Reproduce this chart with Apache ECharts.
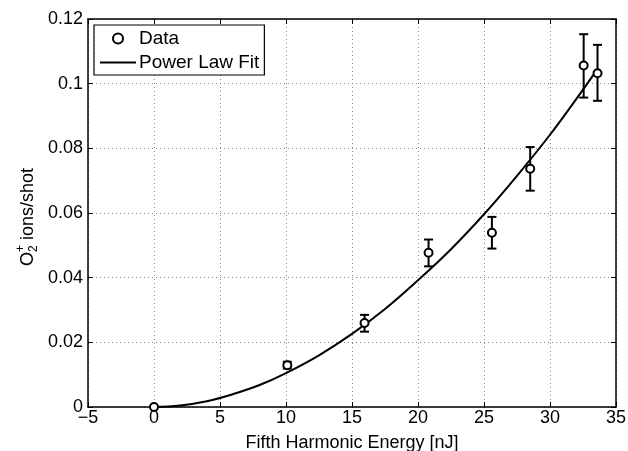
<!DOCTYPE html>
<html>
<head>
<meta charset="utf-8">
<script src="https://cdn.jsdelivr.net/npm/echarts@6/dist/echarts.min.js"></script>
<style>
  html, body { margin: 0; padding: 0; background: #fff; }
  #chart { width: 628px; height: 451px; }
</style>
</head>
<body>
<div id="chart"></div>
<script>
// Measured O2+ yield versus fifth-harmonic pulse energy
const energy  = [0, 10.1, 15.95, 20.8, 25.6, 28.5, 32.55, 33.6];
const ions    = [0, 0.0129, 0.0260, 0.0477, 0.0539, 0.0737, 0.1056, 0.1032];
const errLow  = [0, 0.0119, 0.0233, 0.0435, 0.0490, 0.0669, 0.0957, 0.0947];
const errHigh = [0, 0.0140, 0.0285, 0.0518, 0.0588, 0.0804, 0.1153, 0.1120];

// Power-law fit curve samples
const fitEnergy = [0, 2, 4, 6, 8, 10, 12.5, 15, 17.5, 20, 22.5, 25, 27.5, 30, 32, 33.3];
const fitIons   = [0, 0.0005, 0.0018, 0.0040, 0.0068, 0.0105, 0.0160, 0.0226, 0.0303,
                   0.0392, 0.0488, 0.0596, 0.0715, 0.0842, 0.0953, 0.1028];

const xTicks = { min: -5, max: 35, interval: 5 };
const yTicks = { min: 0, max: 0.12, interval: 0.02 };

const FONT = 'Liberation Sans, Arial, Helvetica, sans-serif';
const chart = echarts.init(document.getElementById('chart'), null, { renderer: 'canvas' });

const pointData = energy.map((x, i) => [x, ions[i]]);
const errData = energy.map((x, i) => [x, errLow[i], errHigh[i]]);
const fitData = fitEnergy.map((x, i) => [x, fitIons[i]]);

const frameLine = { show: true, onZero: false, lineStyle: { color: '#000', width: 1.5 } };
const innerTick = { show: true, inside: true, length: 5, lineStyle: { color: '#000', width: 1 } };
const gridDots = { show: true, lineStyle: { color: '#8a8a8a', width: 1, type: [1, 3] } };

const textStyleBase = (size) => ({
  fontSize: size, fontFamily: FONT, fill: '#000',
  align: 'left', verticalAlign: 'middle', textAlign: 'left', textVerticalAlign: 'middle'
});

chart.setOption({
  animation: false,
  backgroundColor: '#fff',
  textStyle: { fontFamily: FONT },
  grid: { left: 88, right: 12, top: 19, bottom: 44, containLabel: false, outerBoundsMode: 'none' },
  legend: {
    left: 94, top: 25,
    orient: 'vertical',
    itemWidth: 36, itemHeight: 10, itemGap: 5,
    padding: [4, 5, 3, 6],
    backgroundColor: '#fff',
    borderColor: '#000', borderWidth: 1.2, borderRadius: 0,
    textStyle: { fontFamily: FONT, fontSize: 19, color: '#000', padding: [0, 0, 0, -2] },
    data: [
      { name: 'Data', icon: 'circle',
        itemStyle: { color: '#fff', borderColor: '#000', borderWidth: 2, opacity: 1 } },
      { name: 'Power Law Fit', icon: 'path://M0,0 L36,0 L36,2 L0,2 Z',
        itemStyle: { color: '#000', borderWidth: 0, opacity: 1 } }
    ]
  },
  xAxis: [
    {
      type: 'value', position: 'bottom',
      min: xTicks.min, max: xTicks.max, interval: xTicks.interval,
      axisLine: frameLine, axisTick: innerTick, splitLine: gridDots,
      axisLabel: {
        color: '#000', fontSize: 18, fontFamily: FONT, margin: 2,
        formatter: v => String(v).replace('-', '\u2212')
      },
      name: 'Fifth Harmonic Energy [nJ]',
      nameLocation: 'middle', nameGap: 27,
      nameTextStyle: { color: '#000', fontSize: 18, fontFamily: FONT }
    },
    {
      type: 'value', position: 'top',
      min: xTicks.min, max: xTicks.max, interval: xTicks.interval,
      axisLine: frameLine, axisTick: innerTick,
      axisLabel: { show: false }, splitLine: { show: false }
    }
  ],
  yAxis: [
    {
      type: 'value', position: 'left',
      min: yTicks.min, max: yTicks.max, interval: yTicks.interval,
      axisLine: frameLine, axisTick: innerTick, splitLine: gridDots,
      axisLabel: { color: '#000', fontSize: 18, fontFamily: FONT, margin: 5 }
    },
    {
      type: 'value', position: 'right',
      min: yTicks.min, max: yTicks.max, interval: yTicks.interval,
      axisLine: frameLine, axisTick: innerTick,
      axisLabel: { show: false }, splitLine: { show: false }
    }
  ],
  graphic: [
    {
      // rotated y-axis title: O with stacked subscript 2 and superscript +
      type: 'group',
      x: 28, y: 266,
      rotation: Math.PI / 2,
      children: [
        { type: 'text', x: 0, y: 0, style: Object.assign({ text: 'O' }, textStyleBase(18)) },
        { type: 'text', x: 14, y: -7, style: Object.assign({ text: '+' }, textStyleBase(12)) },
        { type: 'text', x: 14, y: 6, style: Object.assign({ text: '2' }, textStyleBase(12)) },
        { type: 'text', x: 26, y: 0, style: Object.assign({ text: 'ions/shot' }, textStyleBase(18)) }
      ]
    }
  ],
  series: [
    {
      name: 'Power Law Fit',
      type: 'line',
      data: fitData,
      smooth: 0.4,
      showSymbol: false,
      symbol: 'none',
      lineStyle: { color: '#000', width: 2 },
      itemStyle: { color: '#000' },
      z: 2
    },
    {
      name: 'Error',
      type: 'custom',
      data: errData,
      z: 3,
      renderItem: (params, api) => {
        const x = api.value(0);
        const lo = api.value(1);
        const hi = api.value(2);
        if (hi === lo) return null;
        const pLo = api.coord([x, lo]);
        const pHi = api.coord([x, hi]);
        const half = 4.5;
        const style = { stroke: '#000', lineWidth: 2 };
        return {
          type: 'group',
          children: [
            { type: 'line', shape: { x1: pLo[0], y1: pLo[1], x2: pHi[0], y2: pHi[1] }, style },
            { type: 'line', shape: { x1: pLo[0] - half, y1: pLo[1], x2: pLo[0] + half, y2: pLo[1] }, style },
            { type: 'line', shape: { x1: pHi[0] - half, y1: pHi[1], x2: pHi[0] + half, y2: pHi[1] }, style }
          ]
        };
      }
    },
    {
      name: 'Data',
      type: 'scatter',
      data: pointData,
      symbol: 'emptyCircle',
      symbolSize: 8,
      itemStyle: { color: '#000', borderColor: '#000', borderWidth: 2, opacity: 1 },
      z: 4
    }
  ]
});
</script>
</body>
</html>
